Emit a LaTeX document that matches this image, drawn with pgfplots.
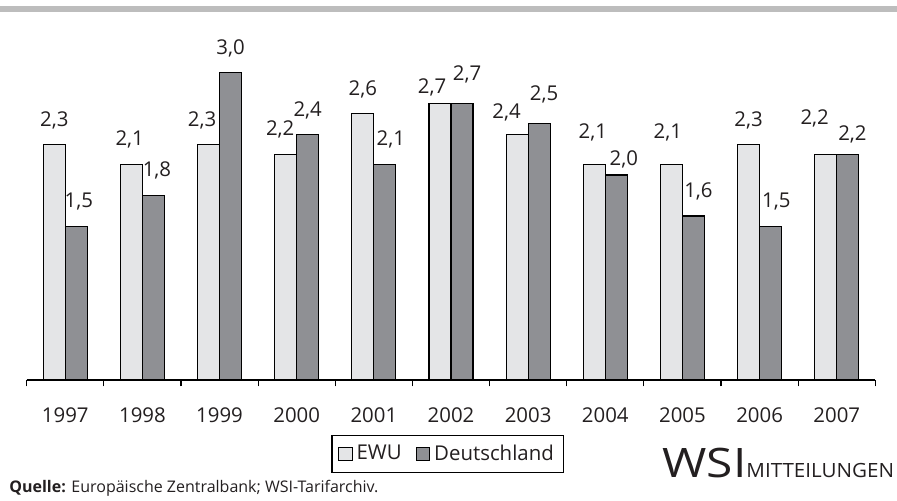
\documentclass[border=0pt]{standalone}
\usepackage{pgfplots}
\pgfplotsset{compat=1.18}
\usepackage{pgfplotstable}
\usepackage{fontspec}
\setmainfont{Open Sans}
\definecolor{ewu}{HTML}{E4E5E7}
\definecolor{de}{HTML}{8F9094}
\definecolor{txt}{HTML}{231F20}
\pgfplotstableread{
x y dx dy
0 2.3 0 9
1 2.1 -0.85 9.5
2 2.3 -3.25 9
3 2.2 -2.75 9.35
4 2.6 0 9.15
5 2.7 -4 5
6 2.4 -5.25 7.85
7 2.1 -0.75 13.35
8 2.1 -1.85 13.35
9 2.3 0 9.15
10 2.2 -5.5 15
}\ewutab
\pgfplotstableread{
x y dx dy
0 1.5 1.25 9.5
1 1.8 1.75 9.5
2 3.0 0 9.2
3 2.4 0 8.85
4 2.1 3 9.5
5 2.7 2.5 11.35
6 2.5 2.5 11.65
7 2.0 3.75 5
8 1.6 2.5 9.15
9 1.5 2.85 9.35
10 2.2 2.35 7
}\detab
\begin{document}
\begin{tikzpicture}
\fill[black!26] (0,244pt) rectangle (448.5pt,247pt);
\begin{axis}[
  at={(13.35pt,60pt)}, anchor=south west,
  scale only axis, width=424.3pt, height=179.3pt,
  ymin=0, ymax=3.5, xmin=-0.5, xmax=10.5,
  axis x line*=bottom, axis y line=none,
  x axis line style={-, black, line width=0.6pt},
  ytick=\empty,
  xtick={0,...,10},
  xticklabels={1997,1998,1999,2000,2001,2002,2003,2004,2005,2006,2007},
  major tick length=0pt,
  minor xtick={-0.5,0.5,...,10.5},
  minor tick length=3.2pt,
  tick align=outside,
  minor tick style={black, line width=0.6pt},
  xticklabel style={font=\fontsize{10.2}{12}\selectfont, text=txt, anchor=base, yshift=-21.2pt, inner sep=0pt},
  ybar=0pt, bar width=11pt,
  nodes near coords,
  visualization depends on={\thisrow{dx}\as\labdx},
  visualization depends on={\thisrow{dy}\as\labdy},
  /pgf/number format/.cd, use comma, fixed, fixed zerofill, precision=1, assume math mode=true,
  /pgfplots/.cd,
  every node near coord/.append style={font=\fontsize{10.2}{12}\selectfont, text=txt, inner sep=0pt, anchor=base, xshift=\labdx pt, yshift=\labdy pt},
  legend style={at={(0.4963,-0.2062)}, anchor=center, legend columns=2, draw=black, line width=0.6pt,
    font=\fontsize{10.2}{12}\selectfont, text=txt, inner xsep=3pt, inner ysep=2.5pt,
    /tikz/every even column/.append style={column sep=5pt}},
  legend image code/.code={\draw[#1, draw=black, line width=0.5pt] (0pt,-3.3pt) rectangle (6.8pt,3pt);},
  clip=false,
]
\addplot[fill=ewu, draw=black, line width=0.6pt] table[x=x,y=y] {\ewutab};
\addplot[fill=de, draw=black, line width=0.6pt] table[x=x,y=y] {\detab};
\legend{EWU,Deutschland}
\end{axis}
\node[anchor=base west, inner sep=0pt, text=txt, font=\fontsize{8}{9}\selectfont] at (4.5pt,4pt) {\textbf{Quelle:} Europäische Zentralbank; WSI-Tarifarchiv.};
\node[anchor=base west, inner sep=0pt, text=txt, font=\fontsize{20.3}{24}\selectfont, xscale=1.18] at (331pt,11.5pt) {WSI};
\node[anchor=base west, inner sep=0pt, text=txt, font=\fontsize{9.8}{12}\selectfont, xscale=1.05] at (373pt,11.5pt) {MITTEILUNGEN};
\pgfresetboundingbox
\path[use as bounding box] (0,0) rectangle (448.5pt,250pt);
\end{tikzpicture}
\end{document}
